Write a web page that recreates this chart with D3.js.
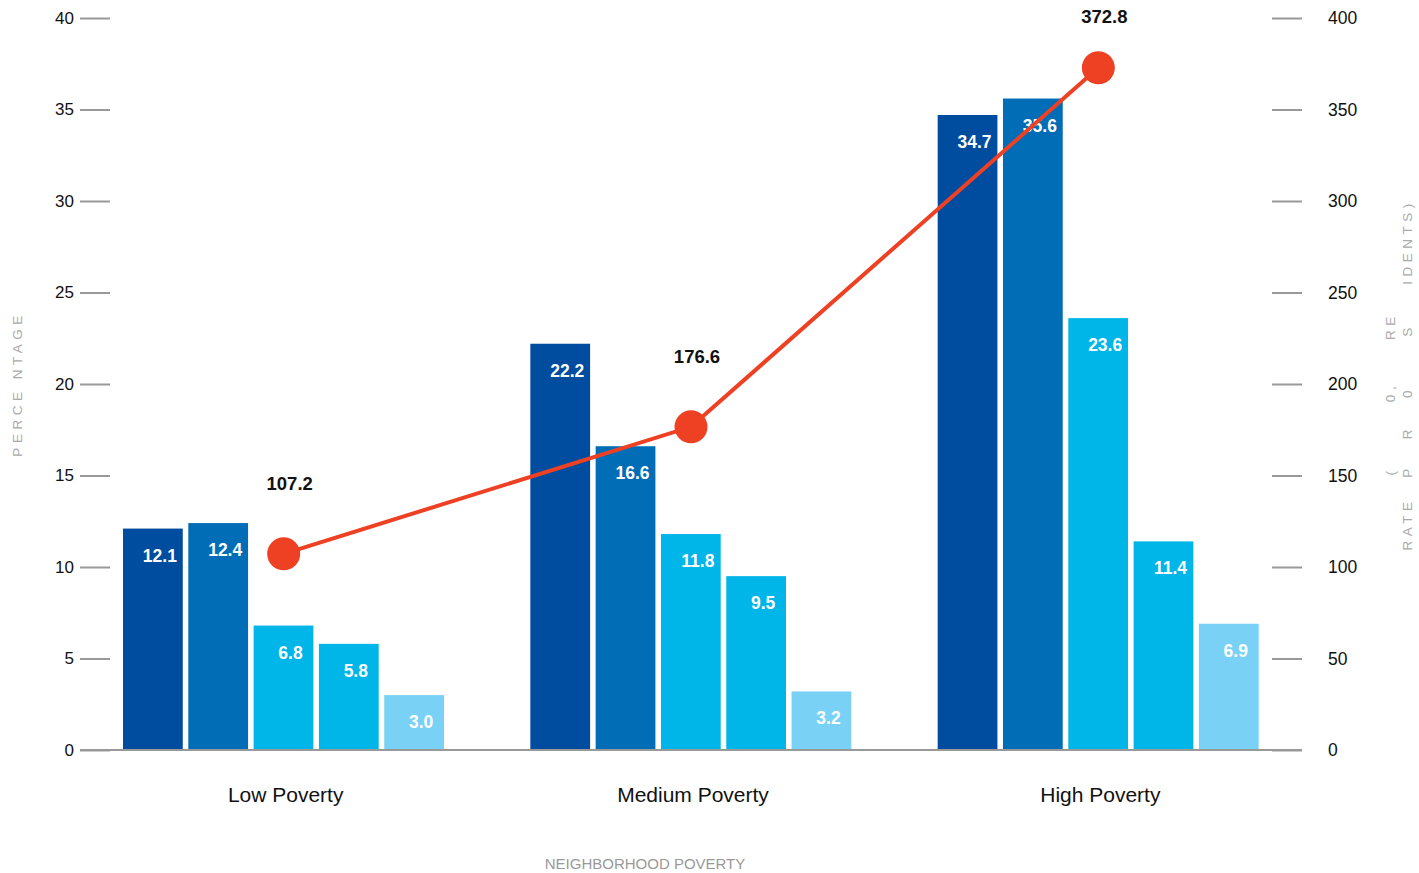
<!DOCTYPE html>
<html>
<head>
<meta charset="utf-8">
<script src="https://cdn.jsdelivr.net/npm/d3@7"></script>
<style>
  body { margin: 0; background: #fff; }
  text { font-family: "Liberation Sans", Arial, sans-serif; }
</style>
</head>
<body>
<svg id="chart" width="1419" height="873"></svg>
<script>
// data
var categories = ["Low Poverty", "Medium Poverty", "High Poverty"];
var series1 = [12.1, 22.2, 34.7];
var series2 = [12.4, 16.6, 35.6];
var series3 = [6.8, 11.8, 23.6];
var series4 = [5.8, 9.5, 11.4];
var series5 = [3.0, 3.2, 6.9];
var rates = [107.2, 176.6, 372.8];
var leftTicks = [0, 5, 10, 15, 20, 25, 30, 35, 40];
var rightTicks = [0, 50, 100, 150, 200, 250, 300, 350, 400];

(function () {
var seriesList = [series1, series2, series3, series4, series5];
var colors = ["#004c9f", "#006db6", "#00b5e8", "#00b5e8", "#79d1f6"];

var svg = d3.select("#chart");
var plotL = 80, plotR = 1302, plotB = 750, plotT = 18;

var x0 = d3.scaleBand().domain(categories).range([plotL, plotR]);
var x1 = d3.scaleBand().domain(d3.range(seriesList.length)).range([43, 364]).paddingInner(0.085);
var y = d3.scaleLinear().domain([0, 40]).range([plotB, plotT]);
var y2 = d3.scaleLinear().domain([0, 400]).range([plotB, plotT]);

// left axis
var gl = svg.append("g").attr("transform", "translate(" + plotL + ",0)")
    .call(d3.axisLeft(y).tickValues(leftTicks).tickSize(0).tickPadding(6));
gl.select(".domain").remove();
gl.selectAll("text").attr("font-size", 17).attr("fill", "#111");
gl.selectAll(".tick").append("line").attr("x1", 0).attr("x2", 30)
    .attr("stroke", "#999").attr("stroke-width", 2);

// right axis
var gr = svg.append("g").attr("transform", "translate(" + plotR + ",0)")
    .call(d3.axisRight(y2).tickValues(rightTicks).tickSize(0).tickPadding(26));
gr.select(".domain").remove();
gr.selectAll("text").attr("font-size", 17.5).attr("fill", "#111");
gr.selectAll(".tick").append("line").attr("x1", -30).attr("x2", 0)
    .attr("stroke", "#999").attr("stroke-width", 2);

// bars
var groups = svg.selectAll(".grp").data(categories).enter().append("g")
    .attr("class", "grp")
    .attr("transform", function (d) { return "translate(" + x0(d) + ",0)"; });

groups.selectAll("rect").data(function (d, i) {
    return seriesList.map(function (s, j) { return {s: j, v: s[i]}; });
}).enter().append("rect")
    .attr("x", function (d) { return x1(d.s); })
    .attr("width", x1.bandwidth())
    .attr("y", function (d) { return y(d.v); })
    .attr("height", function (d) { return plotB - y(d.v); })
    .attr("fill", function (d) { return colors[d.s]; });

// baseline
svg.append("line").attr("x1", plotL).attr("x2", plotR).attr("y1", plotB).attr("y2", plotB)
    .attr("stroke", "#999").attr("stroke-width", 2);

// rate line
var cx = function (d, i) { return x0(categories[i]) + x0.bandwidth() / 2; };
var line = d3.line().x(cx).y(function (d) { return y2(d); });
svg.append("path").datum(rates).attr("d", line)
    .attr("fill", "none").attr("stroke", "#ee4124").attr("stroke-width", 4);
svg.selectAll(".dot").data(rates).enter().append("circle")
    .attr("cx", cx).attr("cy", function (d) { return y2(d); }).attr("r", 16.5)
    .attr("fill", "#ee4124");

// bar labels
groups.selectAll(".bl").data(function (d, i) {
    return seriesList.map(function (s, j) { return {s: j, v: s[i]}; });
}).enter().append("text")
    .attr("x", function (d) { return x1(d.s) + x1.bandwidth() / 2 + 7; })
    .attr("y", function (d) { return y(d.v) + 33; })
    .attr("text-anchor", "middle")
    .attr("font-size", 17.5).attr("font-weight", "bold").attr("fill", "#fff")
    .text(function (d) { return d.v.toFixed(1); });

// rate labels
svg.selectAll(".rl").data(rates).enter().append("text")
    .attr("x", function (d, i) { return cx(d, i) + 6; })
    .attr("y", function (d) { return Math.max(y2(d) - 64, 23); })
    .attr("text-anchor", "middle")
    .attr("font-size", 18.5).attr("font-weight", "bold").attr("fill", "#111")
    .text(function (d) { return d.toFixed(1); });

// category labels
svg.selectAll(".cl").data(categories).enter().append("text")
    .attr("x", function (d) { return x0(d) + x0.bandwidth() / 2 + 2; })
    .attr("y", 802)
    .attr("text-anchor", "middle")
    .attr("font-size", 21).attr("fill", "#111")
    .text(function (d) { return d; });

// axis titles
svg.append("text").attr("x", 645).attr("y", 869).attr("text-anchor", "middle")
    .attr("font-size", 15).attr("fill", "#999").text("NEIGHBORHOOD POVERTY");

svg.append("text").attr("transform", "translate(22,384)rotate(-90)")
    .attr("text-anchor", "middle").attr("font-size", 13.5).attr("fill", "#aaa")
    .attr("letter-spacing", 4.5).text("PERCE NTAGE");

// right title, glyphs scattered over two columns
var rightTitle = [
    ["RATE", 1412, 524], ["P", 1412, 471], ["R", 1412, 432], ["0", 1412, 392],
    ["S", 1412, 330], ["IDENTS)", 1412, 242],
    ["(", 1395, 471], ["0,", 1395, 392], ["RE", 1395, 326]
];
svg.selectAll(".rt").data(rightTitle).enter().append("text")
    .attr("transform", function (d) { return "translate(" + d[1] + "," + d[2] + ")rotate(-90)"; })
    .attr("text-anchor", "middle").attr("font-size", 13.5).attr("fill", "#aaa")
    .attr("letter-spacing", 4.5)
    .text(function (d) { return d[0]; });
})();
</script>
</body>
</html>
